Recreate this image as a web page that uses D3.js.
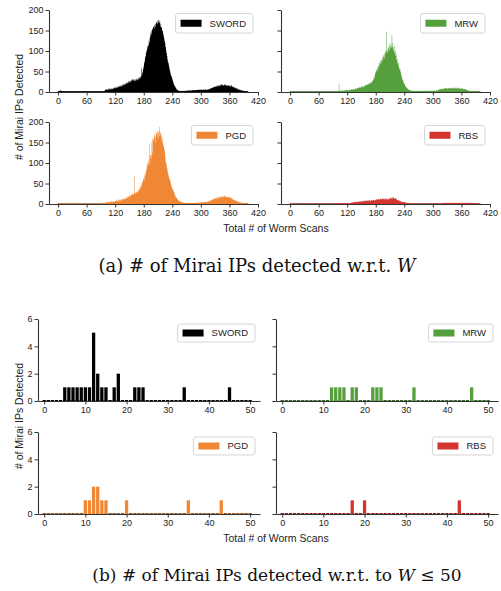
<!DOCTYPE html>
<html>
<head>
<meta charset="utf-8">
<script src="https://cdn.jsdelivr.net/npm/d3@7"></script>
<style>
  body { margin: 0; background: #fff; }
  svg { display: block; }
  .tick text { font-family: "Liberation Sans", Arial, sans-serif; font-size: 9px; fill: #222; }
  .tick line, .domain { stroke: #333; }
</style>
</head>
<body>
<div id="chart"></div>
<script>
// series names + colours
const seriesNames = ["SWORD", "MRW", "PGD", "RBS"];
const seriesColors = ["#000000", "#55a03d", "#f08735", "#d3352e"];

// (a) counts per W value, starting at the given W
const swordStart = 0;
const swordCounts = [
  0,1,2,3,2,3,4,2,3,2,1,2,1,2,1,1,2,1,1,2,
  1,1,2,1,1,2,1,1,1,2,1,1,2,1,1,1,2,1,1,1,
  1,2,1,1,1,2,1,1,1,1,2,1,1,2,1,1,1,1,2,1,
  1,1,1,2,1,1,1,1,1,2,1,1,1,1,1,1,2,1,1,1,
  1,1,1,1,2,1,1,1,1,1,1,2,1,1,1,2,1,2,3,5,
  6,5,7,6,5,8,6,7,9,6,7,8,6,9,8,7,10,8,9,11,
  9,12,10,11,13,10,14,12,13,15,12,16,14,13,17,15,18,16,20,17,
  19,21,18,22,20,24,21,23,26,22,25,28,24,27,30,26,29,32,28,31,
  27,30,26,31,29,33,28,32,30,35,31,36,33,38,35,58,40,45,50,56,
  62,70,75,83,88,95,100,104,110,115,112,125,120,132,138,145,140,150,155,152,
  158,160,155,163,166,160,170,168,172,165,175,170,176,168,172,160,165,158,156,150,
  148,142,136,130,124,118,110,102,95,88,80,74,70,64,58,52,47,42,39,36,
  32,28,24,20,17,15,13,11,9,7,6,5,4,3,3,2,3,2,2,3,
  2,3,2,2,3,2,3,2,3,3,2,3,4,3,3,4,3,4,4,3,
  4,3,4,5,4,4,5,4,5,4,5,5,4,6,5,5,6,5,6,5,
  6,5,6,5,6,7,5,6,5,7,6,5,6,5,6,7,6,7,8,7,
  8,9,10,9,11,10,12,11,13,12,14,13,12,15,14,16,13,15,17,14,
  16,18,15,17,19,16,18,17,15,19,17,16,18,15,17,16,14,17,15,16,
  14,16,13,15,17,14,12,14,11,13,10,12,9,11,8,10,7,9,6,7,
  6,5,6,4,5,4,3,4,3,3,2,3,2,2,1,2,1,1,1,0
];
const mrwStart = 0;
const mrwCounts = [
  0,0,0,1,0,1,1,0,1,0,1,0,0,1,1,2,1,1,0,1,
  1,0,1,1,0,1,0,1,1,0,1,0,1,0,1,1,0,1,0,1,
  0,1,1,0,1,0,1,0,1,1,0,1,0,1,0,1,1,0,1,0,
  1,0,1,0,1,1,0,1,0,1,0,1,1,0,1,0,1,0,1,1,
  0,1,0,1,1,0,1,0,1,1,0,1,2,1,1,2,1,2,1,2,
  2,3,2,20,3,2,4,3,2,3,4,3,2,4,3,5,4,3,4,5,
  4,5,3,4,6,5,4,6,5,7,6,5,7,6,8,7,6,8,9,7,
  8,10,9,11,10,9,12,11,10,13,12,14,11,15,13,12,16,14,17,15,
  16,18,17,19,20,18,21,19,22,24,21,25,23,28,26,30,37,33,40,45,
  48,52,55,50,60,58,66,62,70,75,68,78,72,80,84,76,86,90,82,95,
  92,100,98,147,102,96,108,110,100,115,104,118,112,108,139,110,120,105,100,112,
  95,100,88,92,78,82,70,65,72,60,55,58,50,45,40,36,32,29,25,22,
  20,18,15,13,12,11,9,8,7,6,5,4,5,3,4,3,2,3,2,3,
  2,3,2,2,3,2,3,2,2,3,2,3,2,3,2,2,3,2,3,2,
  3,2,3,2,3,3,2,3,2,3,2,3,3,2,3,2,3,3,2,3,
  3,2,3,3,4,3,2,3,4,3,4,5,6,5,7,6,8,7,6,8,
  7,9,8,7,9,8,10,9,8,10,9,7,10,9,11,8,10,9,8,10,
  9,11,8,10,9,12,8,10,9,11,8,9,10,8,9,11,8,9,7,10,
  8,9,7,9,8,6,8,7,6,7,5,6,4,5,3,4,3,2,3,2,
  2,2,1,2,1,1,2,1,1,1,0,1,1,0,1,0,0,1,0,0
];
const pgdStart = 0;
const pgdCounts = [
  0,0,1,0,1,0,1,0,1,0,2,1,3,2,1,0,1,0,1,0,
  0,0,1,0,0,0,1,0,0,0,0,1,0,0,0,0,0,1,0,0,
  0,0,0,0,1,0,0,0,0,0,0,0,1,0,0,0,0,0,0,0,
  0,1,0,0,0,0,0,0,0,1,0,0,0,0,0,0,0,0,1,0,
  0,0,0,0,0,1,0,0,0,0,0,0,0,1,0,0,0,0,1,0,
  2,4,5,3,6,4,5,3,7,5,4,6,5,8,4,6,5,7,6,5,
  8,6,7,9,12,7,8,10,6,9,11,8,10,12,9,11,13,10,12,14,
  11,13,15,12,16,14,18,15,17,20,18,22,19,21,24,20,23,26,22,25,
  28,68,24,27,30,26,29,33,28,35,31,38,36,40,45,42,50,55,52,60,
  63,58,70,75,68,80,85,100,92,105,95,110,145,100,118,120,112,150,125,160,
  155,158,162,170,150,165,172,175,168,180,160,175,178,188,165,170,176,168,155,162,
  150,145,140,130,135,118,105,100,95,88,82,75,70,66,62,58,55,50,45,40,
  38,36,34,30,28,24,20,18,16,15,14,12,10,9,8,7,6,5,6,4,
  5,4,3,4,3,2,3,2,3,2,2,1,2,3,2,1,2,2,3,2,
  2,3,2,2,3,2,3,3,2,3,2,3,3,2,4,3,3,4,3,4,
  3,4,4,3,5,4,4,5,4,5,5,4,6,5,5,6,7,6,8,7,
  9,8,10,9,11,12,10,13,12,14,13,15,12,16,14,17,15,13,18,16,
  17,15,19,16,18,20,17,19,16,18,21,17,19,16,18,17,15,18,16,17,
  15,17,14,16,13,15,12,11,10,12,9,10,8,9,7,8,6,7,5,6,
  5,4,5,3,4,3,3,2,3,2,2,1,2,1,1,1,0,1,0,0
];
const rbsStart = 100;
const rbsCounts = [
  1,2,2,1,3,2,2,1,2,1,2,3,1,2,1,2,1,2,2,1,
  1,2,1,2,1,2,2,3,2,3,4,3,5,4,3,5,4,6,5,4,
  5,6,4,5,6,5,7,6,5,7,6,8,6,7,8,6,7,8,7,9,
  8,7,9,8,6,9,10,8,9,7,8,9,10,8,9,11,10,9,8,10,
  9,11,12,10,11,13,12,10,11,14,12,11,13,12,14,11,13,12,11,14,
  13,11,12,14,10,12,13,11,12,14,13,15,12,16,14,13,17,15,16,14,
  12,15,13,11,12,10,9,10,8,9,7,8,6,7,5,6,5,4,5,4,
  4,5,3,4,3,3,2,3,2,3,1,1,1,0,1,0,0,0,0,0,
  0,0,0,0,0,0,0,0,0,0,0,0,0,0,0,0,0,0,0,0,
  0,0,0,0,0,0,0,0,0,0,0,0,0,0,0,0,0,0,0,0,
  0,0,0,0,0,0,0,0,0,0,0,0,0,0,0,0,0,0,0,0,
  2,3,2,3,2,3,3,2,3,2,3,2,3,3,2,3,2,3,2,3,
  3,2,3,2,3,3,2,3,2,3,2,3,2,3,2,2,3,2,3,2,
  3,2,3,2,3,2,3,3,2,3,2,3,2,3,2,2,3,2,3,2,
  2,3,2,2,3,2,2,1,2,1,1,1,0,1,0,0,0,0,0,0
];

// (b) W <= 50 : [W, count] pairs (all other W in 0..50 are zero)
const smallW = d3.range(0, 51);
const swordSmall = [[5,1],[6,1],[7,1],[8,1],[9,1],[10,1],[11,1],[12,5],[13,2],[14,1],[15,1],[17,1],[18,2],[22,1],[23,1],[24,1],[34,1],[45,1]];
const mrwSmall = [[12,1],[13,1],[14,1],[15,1],[17,1],[18,1],[22,1],[23,1],[24,1],[32,1],[46,1]];
const pgdSmall = [[10,1],[11,1],[12,2],[13,2],[14,1],[15,1],[20,1],[35,1],[43,1]];
const rbsSmall = [[17,1],[20,1],[43,1]];

// ticks
const bigXTicks = [0, 60, 120, 180, 240, 300, 360, 420];
const bigYTicks = [0, 50, 100, 150, 200];
const smallXTicks = [0, 10, 20, 30, 40, 50];
const smallYTicks = [0, 2, 4, 6];

const width = 501, height = 591;
const svg = d3.select("#chart").append("svg")
    .attr("width", width)
    .attr("height", height);

function toPairs(start, counts) {
    return counts.map(function(c, i) { return [start + i, c]; });
}

const bigData = [
    toPairs(swordStart, swordCounts),
    toPairs(mrwStart, mrwCounts),
    toPairs(pgdStart, pgdCounts),
    toPairs(rbsStart, rbsCounts)
];
const smallData = [swordSmall, mrwSmall, pgdSmall, rbsSmall];

function drawPanel(opt) {
    let g = svg.append("g");
    let x = d3.scaleLinear().domain(opt.xDomain).range([opt.left, opt.right]);
    let y = d3.scaleLinear().domain(opt.yDomain).range([opt.top + opt.h, opt.top]);
    let color = seriesColors[opt.idx];
    let bw = opt.barWidth;

    // zero-height bars show as a thin line along the baseline
    g.append("g").selectAll("line")
        .data(opt.baseline)
        .enter()
        .append("line")
        .attr("x1", function(d) { return x(d - bw / 2); })
        .attr("x2", function(d) { return x(d + bw / 2); })
        .attr("y1", y(0) - 0.5)
        .attr("y2", y(0) - 0.5)
        .attr("stroke", d3.color(color).darker(1.2))
        .attr("stroke-width", 1);

    if (opt.dense) {
        // bins are thinner than a pixel: draw them as one stepped shape
        let steps = opt.data.slice();
        let last = steps[steps.length - 1];
        steps.push([last[0] + 1, last[1]]);
        let area = d3.area()
            .curve(d3.curveStepAfter)
            .x(function(d) { return x(d[0] - 0.5); })
            .y0(y(0))
            .y1(function(d) { return y(d[1]); });
        g.append("path")
            .datum(steps)
            .attr("d", area)
            .attr("fill", color);
    } else {
        g.append("g").selectAll("rect")
            .data(opt.data.filter(function(d) { return d[1] > 0; }))
            .enter()
            .append("rect")
            .attr("x", function(d) { return x(d[0] - bw / 2); })
            .attr("width", function(d) { return x(d[0] + bw / 2) - x(d[0] - bw / 2); })
            .attr("y", function(d) { return y(d[1]); })
            .attr("height", function(d) { return y(0) - y(d[1]); })
            .attr("fill", color);
    }

    g.append("g")
        .attr("transform", `translate(0, ${opt.top + opt.h})`)
        .call(d3.axisBottom(x).tickValues(opt.xTicks).tickFormat(d3.format("d"))
            .tickSize(3.5).tickPadding(2).tickSizeOuter(0));
    let yAxis = d3.axisLeft(y).tickValues(opt.yTicks).tickFormat(d3.format("d"))
        .tickSize(3.5).tickPadding(2).tickSizeOuter(0);
    if (!opt.yLabels) yAxis.tickFormat("");
    g.append("g")
        .attr("transform", `translate(${opt.left}, 0)`)
        .call(yAxis);
    g.selectAll(".domain").attr("stroke-width", 1.1);

    // legend
    let lg = g.append("g");
    let box = lg.append("rect")
        .attr("rx", 2.5)
        .attr("fill", "#fff")
        .attr("fill-opacity", 0.85)
        .attr("stroke", "#d0d0d0")
        .attr("stroke-width", 0.9);
    lg.append("rect")
        .attr("x", 5)
        .attr("y", opt.legH / 2 - 3.5)
        .attr("width", 21)
        .attr("height", 7)
        .attr("fill", color);
    let txt = lg.append("text")
        .attr("x", 34)
        .attr("y", opt.legH / 2 + 3.4)
        .style("font-family", "Liberation Sans, Arial, sans-serif")
        .style("font-size", "9.5px")
        .attr("fill", "#222")
        .text(seriesNames[opt.idx]);
    let bwid = 34 + txt.node().getComputedTextLength() + 7;
    box.attr("width", bwid).attr("height", opt.legH);
    lg.attr("transform", `translate(${opt.right - 5 - bwid}, ${opt.top + opt.legTop})`);
}

// ---- (a) full range ----
const bigCols = [[49, 258], [281, 490]];
const bigRows = [10, 122];
seriesNames.forEach(function(name, i) {
    let col = bigCols[i % 2];
    drawPanel({
        idx: i,
        data: bigData[i],
        dense: true,
        baseline: d3.range(0, 400),
        barWidth: 1,
        left: col[0], right: col[1],
        top: bigRows[Math.floor(i / 2)], h: 82,
        xDomain: [-19, 420], yDomain: [0, 200],
        xTicks: bigXTicks, yTicks: bigYTicks,
        yLabels: i % 2 == 0,
        legTop: 3.5, legH: 19.5
    });
});

// ---- (b) W <= 50 ----
const smallCols = [[38, 260], [276, 498]];
const smallRows = [319, 432];
seriesNames.forEach(function(name, i) {
    let col = smallCols[i % 2];
    drawPanel({
        idx: i,
        data: smallData[i],
        dense: false,
        baseline: smallW,
        barWidth: 0.8,
        left: col[0], right: col[1],
        top: smallRows[Math.floor(i / 2)], h: 82,
        xDomain: [-1.5, 52.4], yDomain: [0, 6],
        xTicks: smallXTicks, yTicks: smallYTicks,
        yLabels: i % 2 == 0,
        legTop: 5, legH: 18
    });
});

// axis titles
function axisTitles(yCenter, xBase) {
    svg.append("text")
        .attr("transform", `translate(23, ${yCenter}) rotate(-90)`)
        .style("text-anchor", "middle")
        .style("font-family", "Liberation Sans, Arial, sans-serif")
        .style("font-size", "10.5px")
        .attr("fill", "#222")
        .text("# of Mirai IPs Detected");
    svg.append("text")
        .attr("x", 276)
        .attr("y", xBase)
        .style("text-anchor", "middle")
        .style("font-family", "Liberation Sans, Arial, sans-serif")
        .style("font-size", "10.5px")
        .attr("fill", "#222")
        .text("Total # of Worm Scans");
}
axisTitles(107, 232);
axisTitles(416, 542);

// captions
function caption(cx, yBase, size, parts) {
    let t = svg.append("text")
        .attr("x", cx)
        .attr("y", yBase)
        .style("text-anchor", "middle")
        .style("font-family", "DejaVu Serif, serif")
        .style("font-size", size + "px")
        .attr("fill", "#111");
    parts.forEach(function(p) {
        t.append("tspan")
            .style("font-style", p[1] ? "italic" : "normal")
            .text(p[0]);
    });
}
caption(257, 272, 18, [["(a) # of Mirai IPs detected w.r.t. ", false], ["W", true]]);
caption(277, 581, 17, [["(b) # of Mirai IPs detected w.r.t. to ", false], ["W", true], [" \u2264 50", false]]);
</script>
</body>
</html>
